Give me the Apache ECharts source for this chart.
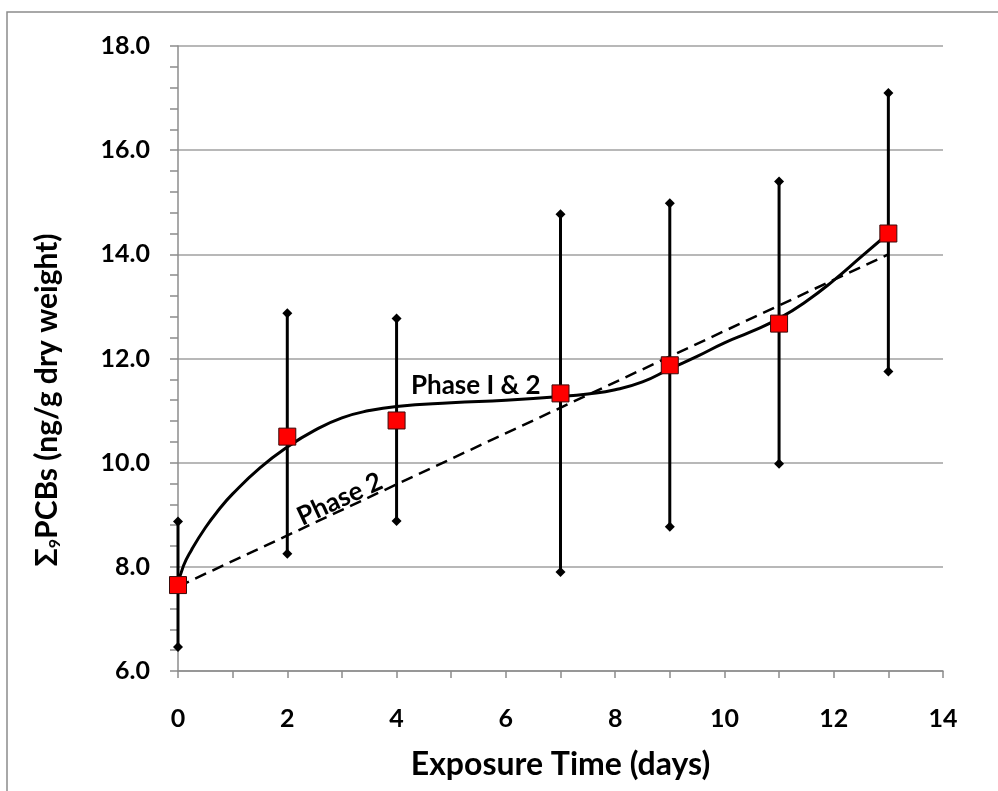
<!DOCTYPE html>
<html>
<head>
<meta charset="utf-8">
<script src="https://cdn.jsdelivr.net/npm/echarts@6/dist/echarts.min.js"></script>
<style>
  html, body { margin: 0; padding: 0; background: #fff; }
  #chart { width: 998px; height: 791px; }
</style>
</head>
<body>
<div id="chart"></div>
<script type="text/javascript">
    // measured points (days, ng/g dry weight)
    var days = [0, 2, 4, 7, 9, 11, 13];
    var meanPCB = [7.65, 10.5, 10.81, 11.33, 11.87, 12.67, 14.4];
    var lowPCB = [6.46, 8.25, 8.88, 7.9, 8.77, 9.98, 11.75];
    var highPCB = [8.87, 12.87, 12.77, 14.77, 14.98, 15.4, 17.1];

    // fitted curve "Phase I & 2"
    var fitDays = [0, 0.1, 0.25, 0.5, 0.75, 1, 1.5, 2, 2.5, 3, 3.5, 4, 5, 6, 7, 7.5, 8, 8.5, 9, 9.5, 10, 10.5, 11, 11.5, 12, 12.5, 13];
    var fitPCB = [7.65, 8.02, 8.33, 8.75, 9.1, 9.4, 9.9, 10.3, 10.62, 10.86, 11.0, 11.08, 11.15, 11.2, 11.27, 11.32, 11.4, 11.55, 11.8, 12.04, 12.3, 12.52, 12.77, 13.1, 13.5, 13.95, 14.4];

    // straight "Phase 2" line
    var phase2Days = [0, 13];
    var phase2PCB = [7.62, 14.0];

    var xTicks = [0, 2, 4, 6, 8, 10, 12, 14];
    var yTicks = [6, 8, 10, 12, 14, 16, 18];

    var FONT = 'Lato';

    function pairs(xs, ys) {
        var out = [];
        for (var i = 0; i < xs.length; i++) {
            out.push([xs[i], ys[i]]);
        }
        return out;
    }

    var errData = [];
    for (var i = 0; i < days.length; i++) {
        errData.push([days[i], lowPCB[i], highPCB[i]]);
    }

    function diamond(p, r) {
        return [[p[0], p[1] - r], [p[0] + r, p[1]], [p[0], p[1] + r], [p[0] - r, p[1]]];
    }

    var chart = echarts.init(document.getElementById('chart'), null, {renderer: 'canvas'});
    var option = {
        animation: false,
        backgroundColor: '#fff',
        grid: {
            left: 178,
            right: 55,
            top: 46,
            bottom: 120
        },
        xAxis: {
            type: 'value',
            min: 0,
            max: 14,
            interval: 1,
            name: 'Exposure Time (days)',
            nameLocation: 'middle',
            nameGap: 78,
            nameTextStyle: {fontFamily: FONT, fontWeight: 'bold', fontSize: 32, color: '#000'},
            axisLine: {lineStyle: {color: '#8c8c8c', width: 1.5}},
            axisTick: {show: true, length: 7, lineStyle: {color: '#8c8c8c', width: 1.5}},
            axisLabel: {
                fontFamily: FONT, fontWeight: 'bold', fontSize: 25, color: '#000', margin: 35,
                formatter: function (v) { return xTicks.indexOf(v) >= 0 ? String(v) : ''; }
            },
            splitLine: {show: false}
        },
        yAxis: {
            type: 'value',
            min: 6,
            max: 18,
            interval: 2,
            axisLine: {show: true, lineStyle: {color: '#8c8c8c', width: 1.5}},
            axisTick: {show: true, length: 8, lineStyle: {color: '#8c8c8c', width: 1.5}},
            minorTick: {show: true, splitNumber: 5, length: 8, lineStyle: {color: '#8c8c8c', width: 1.5}},
            axisLabel: {
                fontFamily: FONT, fontWeight: 'bold', fontSize: 25, color: '#000', margin: 28,
                formatter: function (v) { return yTicks.indexOf(v) >= 0 ? v.toFixed(1) : ''; }
            },
            splitLine: {show: true, lineStyle: {color: '#a0a0a0', width: 1.5}}
        },
        graphic: [
            {
                type: 'rect',
                shape: {x: 7, y: 12, width: 1010, height: 800},
                style: {fill: 'none', stroke: '#8c8c8c', lineWidth: 1.5},
                silent: true
            },
            {
                type: 'text',
                x: 47,
                y: 400,
                rotation: Math.PI / 2,
                style: {
                    text: '{a|Σ}{s|9}{a|PCBs (ng/g dry weight)}',
                    align: 'center',
                    verticalAlign: 'middle',
                    rich: {
                        a: {fontFamily: FONT, fontWeight: 'bold', fontSize: 30, color: '#000', lineHeight: 34},
                        s: {fontFamily: FONT, fontWeight: 'bold', fontSize: 16, color: '#000', padding: [16, 0, 0, 0]}
                    }
                }
            }
        ],
        series: [
            {
                name: 'Phase 2',
                type: 'line',
                data: pairs(phase2Days, phase2PCB),
                showSymbol: false,
                lineStyle: {color: '#000', width: 2.5, type: [12, 7]},
                z: 2,
                markPoint: {
                    symbol: 'circle',
                    symbolSize: 0,
                    label: {
                        show: true, position: 'inside', rotate: 25,
                        fontFamily: FONT, fontWeight: 'bold', fontSize: 26, color: '#000'
                    },
                    data: [{coord: [2.96, 9.3], value: 'Phase 2', label: {formatter: 'Phase 2'}}]
                }
            },
            {
                name: 'Phase I & 2',
                type: 'line',
                data: pairs(fitDays, fitPCB),
                smooth: 0.5,
                showSymbol: false,
                lineStyle: {color: '#000', width: 3},
                z: 3,
                markPoint: {
                    symbol: 'circle',
                    symbolSize: 0,
                    label: {
                        show: true, position: 'inside',
                        fontFamily: FONT, fontWeight: 'bold', fontSize: 26, color: '#000'
                    },
                    data: [{coord: [5.45, 11.48], value: 'Phase I & 2', label: {formatter: 'Phase I & 2'}}]
                }
            },
            {
                name: 'range',
                type: 'custom',
                data: errData,
                z: 4,
                renderItem: function (params, api) {
                    var x = api.value(0);
                    var lo = api.coord([x, api.value(1)]);
                    var hi = api.coord([x, api.value(2)]);
                    return {
                        type: 'group',
                        children: [
                            {type: 'line', shape: {x1: lo[0], y1: lo[1], x2: hi[0], y2: hi[1]},
                             style: {stroke: '#000', lineWidth: 3}},
                            {type: 'polygon', shape: {points: diamond(lo, 5)}, style: {fill: '#000'}},
                            {type: 'polygon', shape: {points: diamond(hi, 5)}, style: {fill: '#000'}}
                        ]
                    };
                }
            },
            {
                name: 'mean',
                type: 'scatter',
                data: pairs(days, meanPCB),
                symbol: 'rect',
                symbolSize: 17,
                itemStyle: {color: '#ff0000', borderColor: '#3a0a0a', borderWidth: 1, opacity: 1},
                z: 5
            }
        ]
    };
    chart.setOption(option);
</script>
</body>
</html>
